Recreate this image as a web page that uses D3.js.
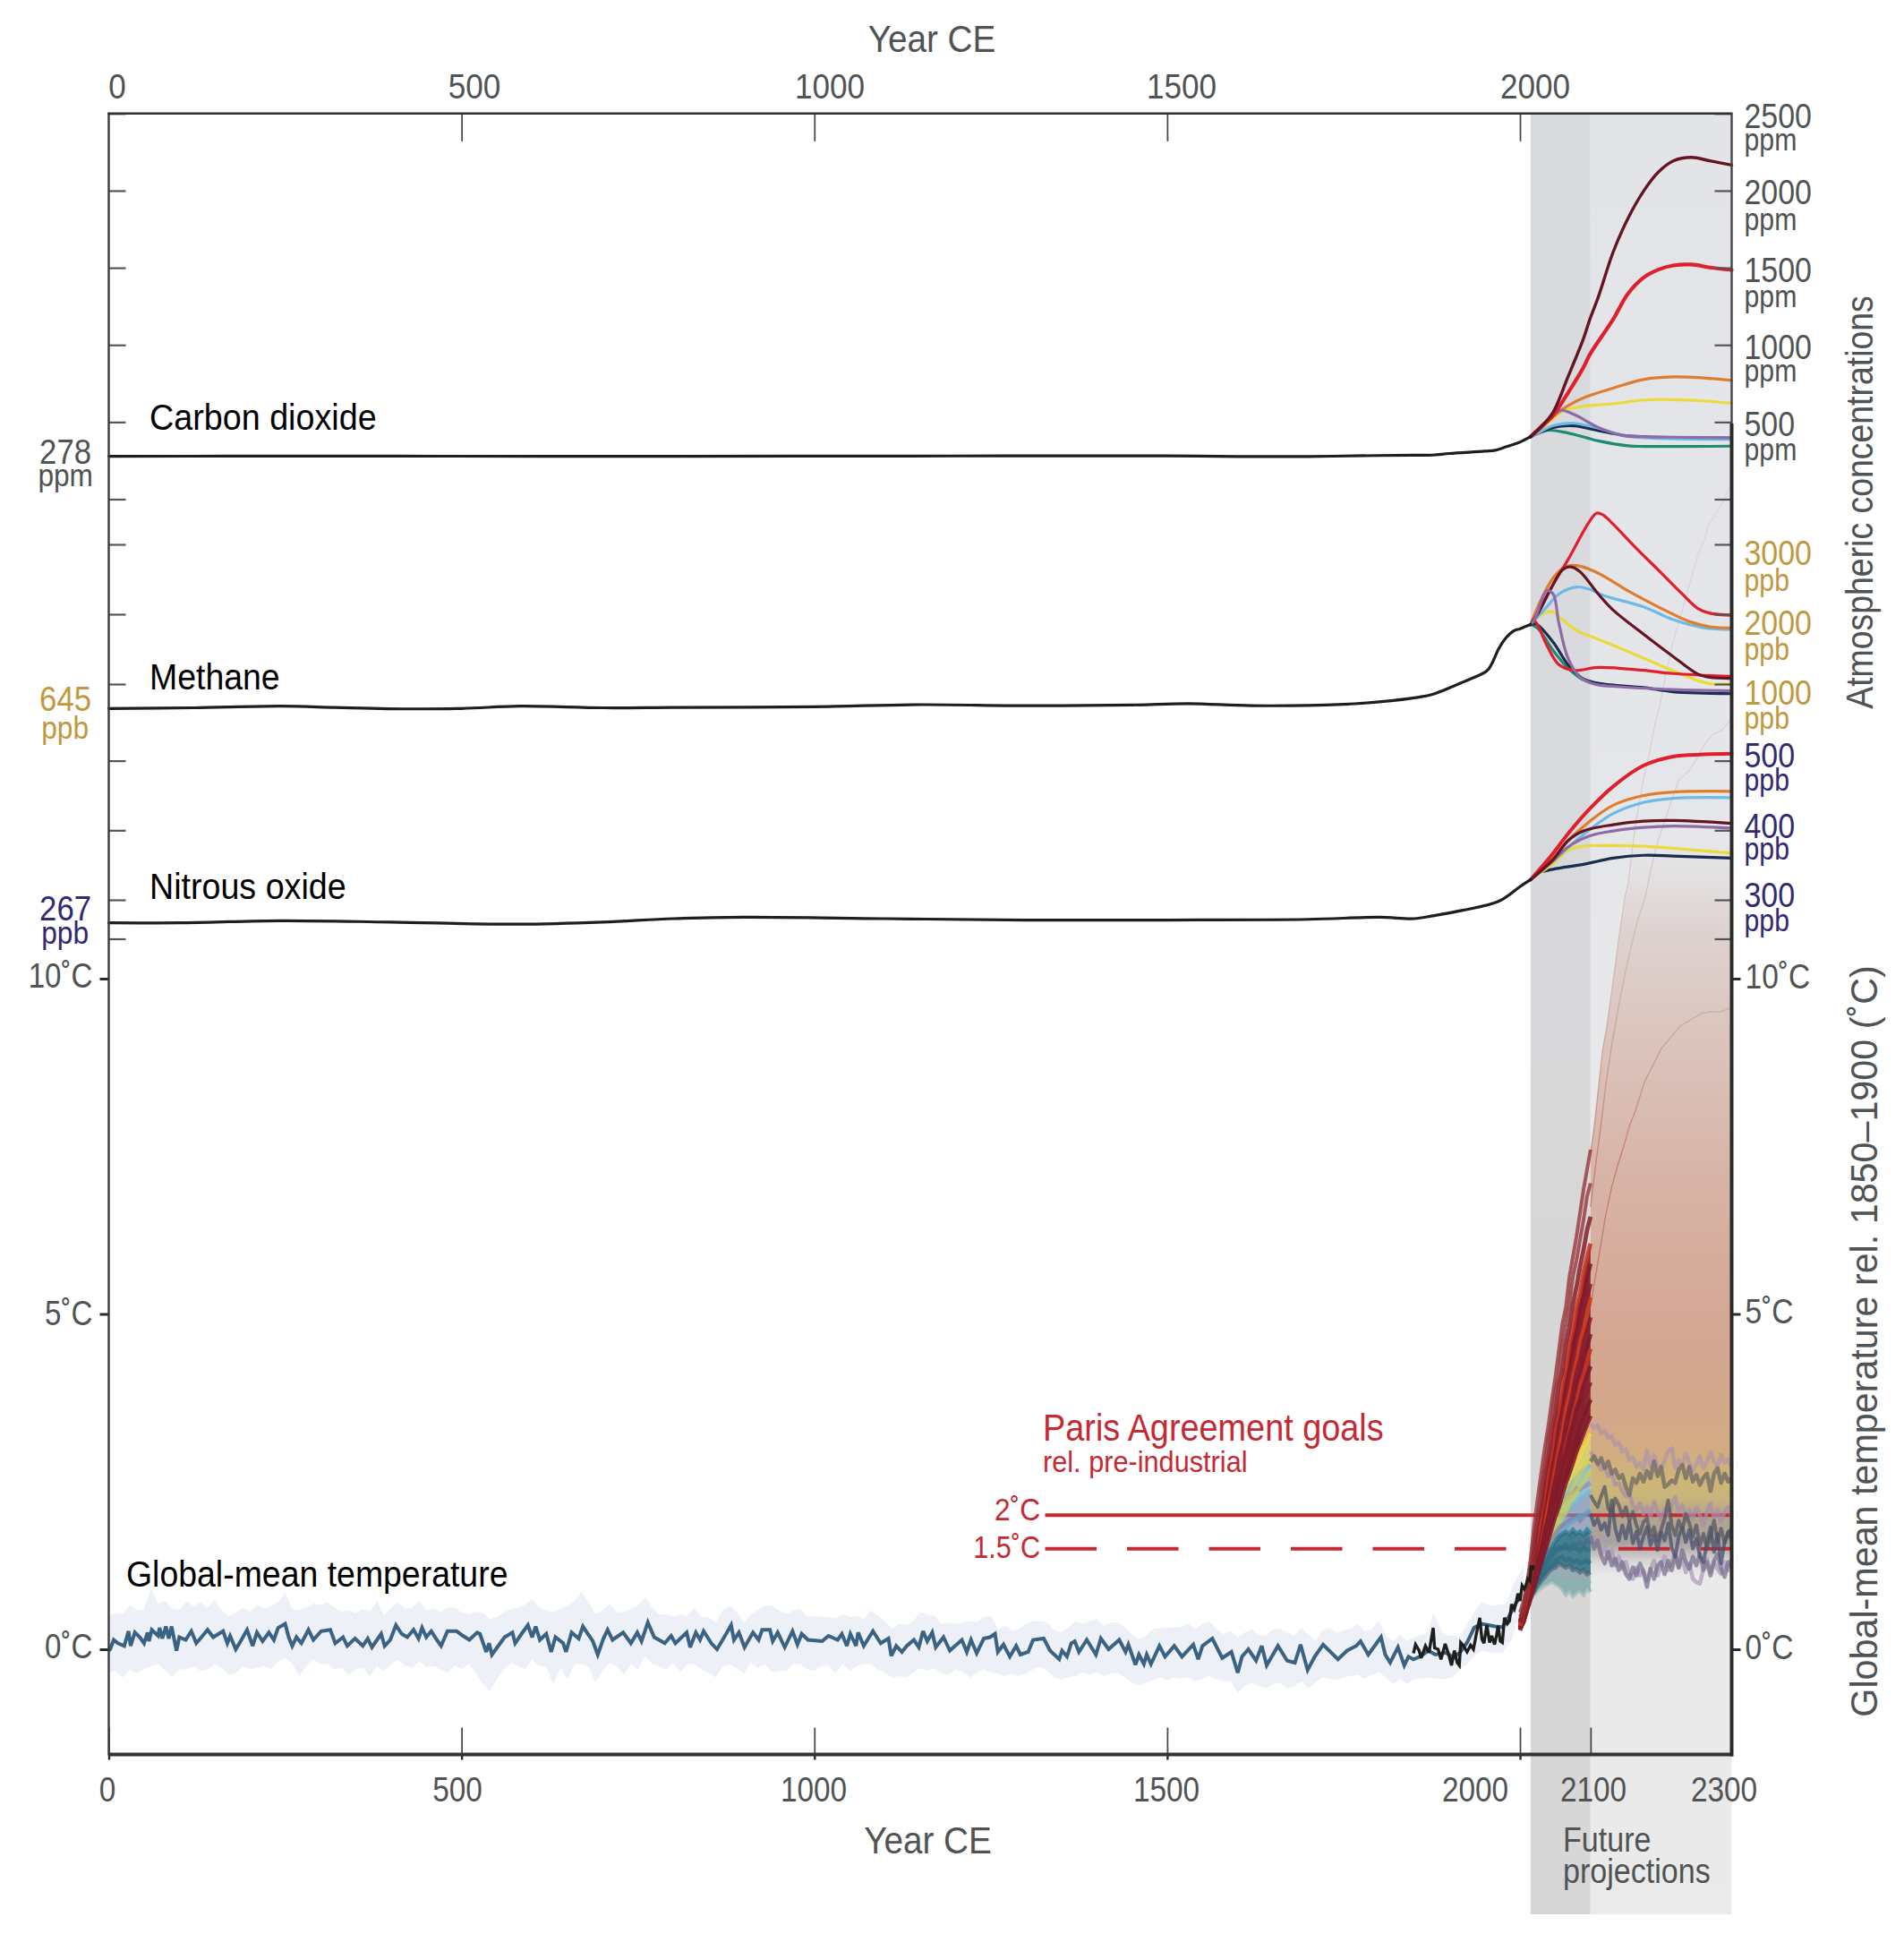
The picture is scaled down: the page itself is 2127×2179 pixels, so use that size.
<!DOCTYPE html>
<html><head><meta charset="utf-8">
<script src="https://cdn.jsdelivr.net/npm/d3@7"></script>
<style>html,body{margin:0;padding:0;background:#fff}svg{display:block}
text{font-family:"Liberation Sans",Arial,sans-serif}</style>
</head><body><svg id="c" width="2127" height="2179"></svg>
<script>
// ---------- data ----------
const topYearTicks=[500,1000,1500,2000];
const topYearLabels=[0,500,1000,1500,2000];
const bottomYearTicks=[0,500,1000,1500,2000,2100];
const bottomYearLabels=[0,500,1000,1500,2000,2100,2300];
const co2Ticks=[0,500,1000,1500,2000,2500];
const ch4Ticks=[1000,2000,3000];
const n2oTicks=[244,300,400,500];
const tempTicks=[0,5,10];

const co2History=[[0,278],[200,279],[400,279],[600,278],[800,278],[1000,279],[1200,280],[1400,281],[1500,281],[1600,277],[1700,277],[1800,283],[1850,285],[1876,286],[1900,296],[1950,311],[1965,317],[1980,339],[2000,370],[2015,405]];
const co2SSP585=[[2015,405],[2030,470],[2047,564],[2068,793],[2090,1041],[2099,1166],[2111,1311],[2132,1602],[2153,1820],[2175,1996],[2196,2120],[2217,2193],[2243,2216],[2269,2193],[2300,2166]];
const co2Red=[[2015,405],[2030,470],[2047,544],[2068,689],[2090,855],[2099,938],[2132,1166],[2153,1332],[2175,1436],[2196,1488],[2217,1515],[2243,1521],[2269,1502],[2300,1486]];
const co2Orange=[[2015,405],[2030,465],[2047,535],[2068,606],[2094,664],[2132,720],[2175,776],[2217,793],[2260,786],[2300,770]];
const co2Yellow=[[2015,405],[2030,455],[2047,525],[2060,570],[2090,602],[2132,618],[2175,643],[2217,645],[2260,637],[2300,622]];
const co2Purple=[[2015,405],[2030,460],[2047,544],[2057,577],[2077,548],[2111,465],[2145,413],[2175,405],[2217,402],[2300,398]];
const co2Blue=[[2015,405],[2030,440],[2047,477],[2077,492],[2111,460],[2145,415],[2175,398],[2300,388]];
const co2Navy=[[2015,405],[2030,435],[2047,465],[2077,475],[2111,445],[2145,415],[2175,405],[2300,395]];
const co2Teal=[[2015,405],[2038,446],[2068,429],[2111,378],[2153,346],[2175,342],[2300,344]];

const ch4History=[[0,650],[120,660],[244,684],[320,665],[394,647],[500,650],[582,684],[700,660],[800,665],[1000,675],[1150,705],[1300,690],[1450,700],[1530,720],[1620,690],[1750,710],[1800,745],[1857,813],[1876,853],[1919,1027],[1953,1188],[1960,1290],[1970,1509],[1980,1660],[1991,1761],[2000,1793],[2015,1853]];
const ch4Red=[[2015,1853],[2021,1950],[2047,2427],[2068,2780],[2098,3321],[2109,3449],[2119,3413],[2132,3289],[2166,2931],[2196,2633],[2230,2289],[2252,2083],[2269,2014],[2300,1986]];
const ch4Orange=[[2015,1853],[2030,2210],[2047,2518],[2064,2679],[2081,2697],[2111,2587],[2153,2335],[2196,2105],[2239,1899],[2269,1821],[2300,1803]];
const ch4Maroon=[[2015,1853],[2025,2000],[2047,2427],[2060,2633],[2072,2679],[2085,2610],[2111,2289],[2132,2060],[2175,1716],[2217,1395],[2252,1142],[2269,1096],[2300,1083]];
const ch4Blue=[[2015,1853],[2038,2105],[2055,2289],[2081,2390],[2098,2358],[2119,2266],[2175,2105],[2217,1922],[2260,1807],[2300,1784]];
const ch4Yellow=[[2015,1853],[2030,1991],[2045,2041],[2055,1968],[2081,1761],[2098,1693],[2132,1555],[2175,1372],[2217,1188],[2252,1050],[2269,1005],[2300,1000]];
const ch4Red2=[[2015,1853],[2021,1900],[2038,1555],[2055,1280],[2077,1197],[2111,1239],[2175,1197],[2217,1151],[2300,1110]];
const ch4Purple=[[2015,1853],[2021,1930],[2038,2335],[2047,2289],[2055,1876],[2068,1372],[2085,1096],[2107,995],[2132,968],[2217,922],[2300,904]];
const ch4Teal=[[2015,1853],[2025,1800],[2047,1480],[2068,1230],[2090,1060],[2115,1000]];
const ch4Navy=[[2015,1853],[2023,1860],[2047,1600],[2068,1280],[2090,1073],[2115,1005],[2175,950],[2217,890],[2300,862]];

const n2oHistory=[[0,267],[100,267],[244,270],[400,268],[582,265],[700,268],[800,273],[900,275],[1100,273],[1300,271],[1500,271],[1700,272],[1800,275],[1850,273],[1876,277],[1919,285],[1970,298],[2000,319],[2015,329]];
const n2oRed=[[2015,329],[2047,367],[2068,395],[2099,431],[2132,463],[2175,493],[2217,506],[2260,509],[2300,510]];
const n2oOrange=[[2015,329],[2047,360],[2068,385],[2099,413],[2132,436],[2175,450],[2217,455],[2300,456]];
const n2oBlue=[[2015,329],[2047,356],[2090,394],[2132,424],[2175,440],[2217,446],[2300,447]];
const n2oMaroon=[[2015,329],[2047,358],[2068,385],[2090,399],[2132,408],[2175,413],[2217,414],[2300,410]];
const n2oPurple=[[2015,329],[2047,356],[2068,376],[2099,392],[2132,399],[2175,404],[2217,406],[2300,403]];
const n2oYellow=[[2015,329],[2047,352],[2068,371],[2090,377],[2132,378],[2175,377],[2217,374],[2300,367]];
const n2oNavy=[[2015,329],[2025,338],[2047,344],[2090,351],[2132,360],[2175,364],[2217,363],[2300,360]];

// reconstructed global mean temperature: [year, deg C]
const tempMean=[[0,-.02],[2,0],[7,.14],[13,.09],[22,.05],[28,.27],[31,.05],[37,.25],[44,.18],[50,.09],[55,.25],[57,.12],[61,.29],[70,.20],[72,.32],[76,.16],[81,.34],[85,.16],[89,.34],[96,-.02],[100,.18],[109,.14],[117,.27],[124,.09],[133,.20],[140,.29],[148,.18],[162,.27],[168,.09],[172,.20],[180,0],[188,.14],[196,.29],[204,.05],[210,.25],[218,.12],[227,.25],[234,.14],[240,.32],[250,.38],[255,.18],[260,.05],[266,.18],[273,.09],[283,.29],[290,.14],[301,.27],[314,.29],[321,.09],[332,.18],[338,.05],[349,.16],[360,.05],[367,.16],[373,.03],[386,.23],[391,.05],[399,.14],[407,.36],[415,.23],[423,.18],[432,.29],[439,.16],[444,.32],[450,.18],[457,.27],[465,.14],[471,.05],[480,.27],[493,.27],[502,.20],[511,.14],[522,.25],[526,.23],[535,-.04],[539,.09],[543,-.08],[552,.05],[561,.18],[572,.25],[576,.09],[585,.23],[594,.36],[600,.18],[605,.34],[611,.14],[620,.23],[627,-.04],[633,.18],[644,.09],[648,-.04],[656,.25],[666,.16],[672,.34],[679,.23],
[686,.12],[693,-.08],[701,.16],[707,.29],[714,.14],[729,.25],[740,.09],[749,.25],[755,.12],[764,.40],[773,.18],[788,.09],[797,.20],[803,.09],[819,.25],[824,.03],[832,.25],[838,.14],[843,.27],[854,.09],[862,0],[875,.23],[882,.36],[886,.14],[893,.25],[901,.03],[913,.25],[921,.14],[926,.29],[937,.29],[941,.12],[948,.25],[958,.03],[969,.27],[976,.07],[982,.23],[991,.14],[1011,.12],[1020,.20],[1033,.14],[1039,.23],[1046,.05],[1051,.23],[1059,.05],[1062,.25],[1070,.05],[1083,.27],[1094,.09],[1105,.16],[1109,-.10],[1116,.05],[1124,-.04],[1131,.05],[1141,.14],[1148,.03],[1154,.27],[1160,.12],[1167,.25],[1172,.03],[1183,.18],[1192,-.02],[1209,.14],[1216,-.04],[1222,.14],[1230,-.06],[1240,.16],[1249,.18],[1256,.23],[1260,-.04],[1268,.07],[1277,-.11],[1286,.05],[1292,-.08],[1303,-.04],[1310,.14],[1325,.16],[1334,-.02],[1347,-.15],[1351,-.02],[1358,-.11],[1364,.09],
[1369,.12],[1375,-.04],[1386,.14],[1399,-.08],[1406,.16],[1417,0],[1432,.14],[1441,-.04],[1445,.07],[1455,-.23],[1460,-.08],[1467,-.22],[1471,-.08],[1477,-.22],[1489,.05],[1497,-.11],[1510,.05],[1521,-.11],[1537,.07],[1544,-.15],[1550,.05],[1564,.16],[1578,-.13],[1591,-.04],[1600,-.35],[1606,-.11],[1615,0],[1626,-.17],[1634,.05],[1641,-.24],[1657,.05],[1670,-.17],[1681,-.20],[1689,.07],[1699,-.31],[1709,-.11],[1721,.07],[1742,-.15],[1755,-.02],[1768,.05],[1774,.12],[1785,-.08],[1803,.18],[1809,-.08],[1816,-.20],[1827,.03],[1836,-.24],[1842,-.11],[1849,-.15],[1860,-.10],[1870,-.02],[1880,-.08],[1895,-.05],[1905,-.12],[1915,-.05],[1925,.10],[1935,.32],[1945,.38],[1955,.36],[1965,.34],[1975,.33],[1985,.50],[1995,.70],[2000,.78]];
// uncertainty band, one value per decade from year 0 to 1850
const bandUpper=[.50,.54,.52,.66,.58,.60,.90,.68,.72,.60,.58,.72,.64,.70,.62,.74,.58,.50,.54,.62,.56,.66,.60,.64,.70,.85,.60,.58,.62,.68,.66,.70,.62,.56,.58,.54,.60,.56,.72,.50,.62,.70,.60,.62,.72,.58,.60,.55,.62,.62,.55,.52,.56,.55,.45,.48,.55,.60,.62,.66,.75,.62,.58,.55,.60,.65,.72,.85,.70,.52,.58,.68,.55,.56,.60,.65,.78,.62,.52,.52,.48,.52,.50,.62,.48,.48,.40,.58,.65,.55,.40,.52,.58,.65,.65,.58,.52,.58,.60,.48,.50,.48,.48,.46,.52,.48,.50,.45,.58,.50,.42,.30,.38,.36,.42,.55,.52,.50,.38,.40,.38,.40,.42,.40,.48,.50,.30,.35,.28,.30,.38,.42,.42,.40,.28,.25,.32,.42,.38,.42,.45,.35,.40,.40,.32,.22,.15,.20,.30,.32,.32,.33,.33,.38,.30,.38,.42,.30,.22,.28,.18,.25,.30,.22,.20,.30,.30,.25,.20,.32,.22,.12,.28,.32,.25,.28,.30,.38,.26,.30,.42,.20,.12,.22,.12,.18];
const bandLower=[-.35,-.33,-.42,-.30,-.36,-.30,-.25,-.22,-.32,-.42,-.30,-.30,-.25,-.32,-.30,-.22,-.28,-.38,-.36,-.25,-.30,-.28,-.25,-.30,-.18,-.12,-.22,-.40,-.25,-.15,-.22,-.22,-.30,-.28,-.38,-.30,-.28,-.40,-.25,-.32,-.22,-.16,-.24,-.28,-.18,-.26,-.25,-.30,-.35,-.24,-.30,-.22,-.35,-.52,-.62,-.45,-.30,-.20,-.25,-.30,-.15,-.25,-.26,-.52,-.28,-.45,-.22,-.22,-.26,-.50,-.32,-.20,-.25,-.38,-.22,-.30,-.10,-.22,-.25,-.30,-.20,-.35,-.22,-.22,-.30,-.35,-.42,-.25,-.22,-.28,-.36,-.20,-.28,-.22,-.34,-.32,-.32,-.22,-.22,-.30,-.32,-.25,-.25,-.36,-.22,-.32,-.25,-.22,-.22,-.30,-.35,-.42,-.40,-.42,-.35,-.28,-.32,-.28,-.36,-.38,-.30,-.33,-.42,-.35,-.30,-.35,-.36,-.40,-.36,-.40,-.36,-.30,-.26,-.32,-.42,-.45,-.42,-.40,-.34,-.38,-.34,-.40,-.36,-.35,-.42,-.50,-.54,-.50,-.46,-.42,-.46,-.42,-.44,-.42,-.48,-.44,-.40,-.45,-.48,-.48,-.65,-.55,-.50,-.55,-.58,-.52,-.50,-.58,-.55,-.48,-.58,-.50,-.42,-.44,-.46,-.42,-.40,-.38,-.44,-.38,-.34,-.42,-.52,-.45,-.52,-.45];
const bandUpperRecent=[[1870,.25],[1877,.55],[1890,.25],[1900,.20],[1915,.20],[1930,.45],[1936,.58],[1945,.70],[1960,.65],[1980,.68],[1990,.95],[2005,1.25]];
const bandLowerRecent=[[2005,.75],[2000,.55],[1988,.14],[1975,-.06],[1960,-.05],[1945,-.02],[1936,-.10],[1925,-.22],[1914,-.31],[1905,-.42],[1890,-.45],[1870,-.42]];
const observed=[[1849,-.06],[1852,.07],[1857,-.02],[1860,-.13],[1866,.05],[1871,-.05],[1877,.32],[1879,.02],[1884,0],[1888,-.15],[1894,.08],[1899,-.08],[1903,-.24],[1907,-.02],[1911,-.20],[1914,-.24],[1916,.10],[1920,.05],[1925,-.04],[1930,.06],[1934,0],[1938,.22],[1943,.47],[1946,.15],[1949,.09],[1953,.36],[1957,.10],[1960,.20],[1964,.07],[1967,.22],[1969,.35],[1972,.12],[1975,.10],[1978,.47],[1982,.38],[1985,.42],[1988,.67],[1992,.60],[1995,.72],[1997,.83],[2000,.72],[2003,.95],[2006,.90],[2008,.94],[2011,1.05],[2014,1.02],[2016,1.25],[2018,1.18],[2019,1.25]];

// Paris goals
const parisStart=1327, parisEnd=2300;
const parisGoals=[2,1.5];

// high-emission members, every five years 2000..2100
const redYears=[2000,2005,2010,2015,2020,2025,2030,2035,2040,2045,2050,2055,2060,2065,2070,2075,2080,2085,2090,2095,2100];
const red1=[.55,.72,.98,1.35,1.85,2.25,2.62,3.00,3.32,3.70,4.05,4.45,4.85,5.10,5.55,5.85,6.15,6.50,6.85,7.15,7.45];
const red2=[.48,.62,.90,1.25,1.65,2.00,2.40,2.72,3.15,3.42,3.85,4.10,4.55,4.85,5.15,5.55,5.80,6.10,6.40,6.75,6.95];
const red3=[.40,.60,.88,1.15,1.50,1.92,2.15,2.58,2.85,3.25,3.52,3.95,4.15,4.55,4.80,5.15,5.40,5.70,5.95,6.25,6.45];
const red4=[.35,.55,.80,1.10,1.45,1.72,2.05,2.35,2.70,2.98,3.35,3.60,3.95,4.20,4.55,4.78,5.10,5.30,5.62,5.85,6.05];
const red5=[.30,.52,.82,1.05,1.38,1.66,1.98,2.22,2.60,2.85,3.18,3.48,3.70,4.05,4.25,4.58,4.80,5.10,5.30,5.55,5.75];
const red6=[.42,.58,.75,1.02,1.30,1.58,1.85,2.18,2.42,2.72,3.00,3.28,3.60,3.82,4.10,4.32,4.62,4.80,5.08,5.25,5.45];
const red7=[.38,.50,.78,.98,1.25,1.50,1.80,2.02,2.35,2.58,2.88,3.10,3.42,3.65,3.90,4.18,4.35,4.62,4.80,5.00,5.25];
const red8=[.32,.50,.70,.95,1.20,1.48,1.68,1.98,2.22,2.50,2.70,3.00,3.20,3.50,3.70,3.95,4.15,4.38,4.60,4.75,4.95];
const red9=[.40,.48,.72,.92,1.15,1.38,1.62,1.88,2.10,2.32,2.60,2.80,3.08,3.28,3.52,3.72,3.98,4.12,4.35,4.52,4.70];
const red10=[.30,.45,.68,.88,1.10,1.32,1.58,1.78,2.02,2.25,2.45,2.70,2.90,3.12,3.35,3.52,3.75,3.95,4.10,4.30,4.48];
const red11=[.35,.42,.65,.85,1.08,1.28,1.48,1.72,1.92,2.15,2.32,2.55,2.78,2.95,3.18,3.35,3.58,3.72,3.92,4.08,4.22];
const red12=[.28,.45,.62,.82,1.02,1.22,1.42,1.60,1.82,2.02,2.22,2.40,2.62,2.80,3.00,3.18,3.35,3.52,3.70,3.85,3.98];
const red13=[.30,.40,.60,.78,.98,1.15,1.35,1.52,1.72,1.90,2.08,2.28,2.45,2.62,2.80,2.98,3.12,3.30,3.45,3.60,3.72];
const red14=[.32,.42,.58,.75,.92,1.10,1.28,1.45,1.62,1.80,1.98,2.12,2.30,2.48,2.62,2.78,2.95,3.08,3.22,3.35,3.48];
const redMembers=[red14,red13,red12,red10,red9,red8,red7,red11,red6,red5,red4,red3,red2,red1];
const redColours=["#7e1a2a","#7e1a2a","#8c1d2c","#c9351f","#7e1a2a","#8c1d2c","#d2401f","#7e1a2a","#8c1d2c","#7e1a2a","#c9351f","#8c1d2c","#963238","#963238"];

// other members, every five years 2015..2100
const fanYears=[2015,2020,2025,2030,2035,2040,2045,2050,2055,2060,2065,2070,2075,2080,2085,2090,2095,2100];
const grey1=[.78,.82,.88,.92,.96,.98,1.02,.98,.95,.90,.82,.88,.80,.85,.88,.82,.92,.85];
const grey2=[.80,.85,.92,1.0,1.02,1.05,1.08,1.10,1.05,1.02,.98,1.0,.95,.98,1.0,.95,1.02,.98];
const dark1=[.80,.86,.95,1.02,1.08,1.15,1.20,1.22,1.28,1.25,1.22,1.25,1.18,1.20,1.15,1.18,1.12,1.15];
const blue4=[.82,.95,1.05,1.15,1.25,1.32,1.42,1.48,1.52,1.58,1.62,1.65,1.70,1.72,1.75,1.72,1.78,1.80];
const blue3=[.85,.98,1.12,1.25,1.35,1.45,1.52,1.62,1.70,1.75,1.82,1.88,1.90,1.95,2.00,1.98,2.05,2.08];
const blue2=[.90,1.05,1.20,1.32,1.45,1.55,1.68,1.78,1.85,1.95,2.02,2.10,2.15,2.20,2.25,2.30,2.32,2.38];
const blue1=[.95,1.12,1.30,1.45,1.60,1.72,1.85,1.98,2.10,2.22,2.32,2.42,2.50,2.55,2.62,2.68,2.72,2.75];
const purple1=[.95,1.15,1.32,1.50,1.62,1.78,1.88,2.00,2.12,2.20,2.25,2.32,2.35,2.40,2.38,2.42,2.45,2.48];
const purple2=[.85,1.00,1.18,1.30,1.42,1.55,1.62,1.72,1.80,1.85,1.88,1.92,1.95,1.98,1.92,2.00,2.02,2.05];
const purple3=[.82,.95,1.05,1.18,1.28,1.35,1.42,1.48,1.52,1.50,1.55,1.52,1.58,1.55,1.60,1.55,1.62,1.58];
const teal1=[.85,.98,1.10,1.22,1.32,1.45,1.52,1.60,1.68,1.72,1.75,1.72,1.78,1.72,1.75,1.70,1.78,1.72];
const teal2=[.82,.92,1.02,1.12,1.22,1.30,1.38,1.45,1.50,1.52,1.55,1.48,1.52,1.50,1.46,1.52,1.48,1.50];
const teal3=[.80,.88,.98,1.08,1.15,1.22,1.25,1.32,1.35,1.38,1.32,1.35,1.30,1.32,1.28,1.30,1.32,1.28];
const yellow4=[.85,1.02,1.15,1.28,1.40,1.52,1.65,1.75,1.85,1.98,2.05,2.18,2.25,2.35,2.42,2.50,2.58,2.65];
const yellow3=[.90,1.05,1.22,1.35,1.48,1.60,1.72,1.88,1.98,2.10,2.22,2.30,2.42,2.52,2.62,2.70,2.80,2.88];
const yellow2=[.95,1.15,1.30,1.45,1.60,1.78,1.90,2.02,2.18,2.28,2.42,2.55,2.68,2.78,2.90,3.02,3.12,3.22];
const yellow1=[1.05,1.25,1.42,1.60,1.78,1.92,2.10,2.25,2.40,2.55,2.65,2.80,2.92,3.02,3.15,3.28,3.40,3.55];
const orange1=[1.05,1.28,1.50,1.70,1.88,2.05,2.20,2.38,2.55,2.68,2.82,2.95,3.10,3.22,3.38,3.50,3.62,3.75];
const fanMembers=[grey1,grey2,purple1,blue1,blue2,yellow4,yellow3,purple2,blue3,blue4,purple3,dark1,teal3,teal2,teal1,yellow2,yellow1,orange1];
const fanColours=["#86b5ad","#86b5ad","#8a80ad","#6fb7d8","#6fb7d8","#d9d040","#d9d040","#7d76a8","#5ba9c9","#5ba9c9","#6a6a9a","#4e5570","#1f6f88","#27808a","#1f6f88","#efe040","#f0c020","#e2702a"];

// long-term members, every five years 2100..2300
const longYears=d3.range(2100,2301,5);
const longA=[3.36,3.30,3.34,3.22,3.26,3.15,3.18,3.05,3.08,2.95,2.98,2.82,2.86,2.72,2.78,2.68,2.96,2.72,2.90,2.74,2.70,2.82,2.95,3.00,2.70,2.82,2.75,2.92,2.78,2.66,2.76,2.88,2.70,2.80,2.94,2.80,2.72,2.90,2.78,2.84,2.70];
const longE=[2.95,2.85,2.78,2.68,2.72,2.58,2.62,2.45,2.48,2.35,2.28,2.32,2.15,2.08,2.18,2.02,2.12,1.98,2.20,2.05,1.92,2.10,2.00,2.15,2.27,2.05,2.15,1.92,2.08,1.95,2.12,2.00,1.85,2.05,2.18,1.95,2.08,1.90,2.05,2.12,1.98];
const longG=[1.72,1.58,1.65,1.42,1.52,1.35,1.48,1.25,1.38,1.20,1.30,1.12,1.05,1.22,1.10,1.18,1.02,1.20,1.32,1.10,1.25,1.38,1.18,1.30,1.45,1.22,1.35,1.15,1.28,1.05,1.00,.98,1.20,1.35,1.15,1.30,1.20,1.12,1.30,1.18,1.36];
const longF=[1.70,1.50,1.62,1.40,1.28,1.45,1.25,1.35,1.18,1.30,1.12,1.05,1.22,1.10,1.28,1.15,.93,1.20,1.05,1.25,1.30,1.12,1.32,1.18,1.40,1.22,1.48,1.30,1.20,1.38,1.25,1.42,1.18,1.30,1.10,1.32,1.42,1.20,1.08,1.30,1.22];
const longD=[2.02,1.85,1.95,1.78,1.88,1.70,2.22,1.80,1.62,1.85,1.65,1.90,1.58,1.75,1.50,1.68,1.82,1.55,1.70,1.48,1.75,1.62,1.88,1.52,1.38,1.68,1.82,1.60,1.78,1.50,1.65,1.38,1.30,1.58,1.82,1.45,1.72,1.28,1.60,1.75,1.62];
const longC=[2.30,2.20,2.12,2.28,2.42,2.10,2.02,2.25,2.15,1.98,2.12,1.92,2.05,1.85,1.72,1.90,1.95,1.70,1.82,1.62,1.78,1.95,2.22,1.85,1.70,1.92,1.78,2.02,1.88,1.68,1.85,1.55,1.72,1.50,1.68,1.92,1.60,1.80,1.58,1.74,1.80];
const longB=[2.80,2.88,2.76,2.85,2.70,2.80,2.62,2.68,2.55,2.60,2.42,2.30,2.55,2.48,2.62,2.50,2.66,2.55,2.80,2.58,2.72,2.42,2.46,2.52,2.48,2.68,2.75,2.55,2.72,2.50,2.60,2.45,2.56,2.62,2.36,2.62,2.70,2.48,2.62,2.50,2.55];
const longMembers=[longA,longE,longG,longF,longD,longC,longB];
const longColours=["#b094a8","#a78fa8","#ad97b8","#766f8c","#474e6c","#55555f","#6b6766"];
const longWidths=[4.5,4.5,4.5,4.5,4,4,4.5];
const faintU1=[[2100,7.4],[2105,7.77],[2110,8.25],[2117,8.93],[2123,9.28],[2130,9.81],[2140,10.6],[2149,11.24],[2153,11.40],[2163,12.25],[2174,12.92],[2183,13.35],[2192,13.83],[2198,14.05],[2205,14.45],[2218,15.07],[2228,15.42],[2239,15.83],[2252,16.32],[2260,16.5],[2268,16.78],[2285,17.05],[2296,17.3],[2300,17.42]];
const faintU2=[[2100,6.6],[2107,7.2],[2115,7.84],[2122,8.45],[2130,9.0],[2140,9.6],[2149,10.08],[2158,10.5],[2166,10.84],[2178,11.24],[2187,11.7],[2196,12.07],[2210,12.5],[2225,12.96],[2240,13.1],[2252,13.31],[2262,13.5],[2272,13.63],[2285,13.7],[2296,13.83],[2300,13.88]];
const faintU3=[[2100,5.11],[2106,5.5],[2113,5.93],[2121,6.45],[2130,6.89],[2138,7.2],[2147,7.50],[2155,7.8],[2164,8.04],[2176,8.45],[2189,8.72],[2200,8.95],[2214,9.13],[2228,9.3],[2244,9.40],[2257,9.48],[2270,9.51],[2283,9.5],[2295,9.55],[2300,9.55]];
const fillLowerEdge=[[2300,.95],[2100,.95]];

// ---------- scales ----------
const x=d3.scaleLinear().domain([0,2300]).range([121.5,1934.5]);
const yCO2=d3.scaleLinear().domain([0,2500]).range([557.5,126.8]);
const yCH4=d3.scaleLinear().domain([1000,3000]).range([764,608]);
const yN2O=d3.scaleLinear().domain([300,500]).range([1005,849.6]);
const yT=d3.scaleLinear().domain([0,10]).range([1842,1093]);
const pTop=126.8,pBottom=1959.5,pLeft=121.5,pRight=1934.5,shadeBottom=2138;

const svg=d3.select("#c");
const defs=svg.append("defs");
function grad(id,y1,y2,stops){
  const g=defs.append("linearGradient").attr("id",id).attr("gradientUnits","userSpaceOnUse")
    .attr("x1",0).attr("x2",0).attr("y1",y1).attr("y2",y2);
  stops.forEach(s=>g.append("stop").attr("offset",(s[0]-y1)/(y2-y1)).attr("stop-color",s[1]).attr("stop-opacity",s[2]===undefined?1:s[2]));
}
grad("shadeA",pTop,shadeBottom,[[pTop,"#d9dade"],[800,"#d9dade"],[1400,"#d7d7d7"],[shadeBottom,"#d7d7d7"]]);
grad("shadeB",pTop,shadeBottom,[[pTop,"#e3e4e8"],[800,"#e5e6ea"],[1400,"#e9e9e9"],[shadeBottom,"#eaeaea"]]);
grad("fanFill",940,1760,[[940,"#dfd4d2",0],[1040,"#ddd0cd",.9],[1100,"#dccbc6"],[1300,"#d8b5a9"],[1500,"#d4a692"],[1590,"#d3a888"],[1625,"#d2ad80"],[1657,"#cdb676"],[1673,"#c8b47a"],[1690,"#b5a68c"],[1723,"#a09a98",.9],[1745,"#a09a98",.2],[1760,"#a09a98",0]]);
grad("faint",540,1300,[[540,"#cfcfd2",.55],[850,"#cbbdbb",.5],[1100,"#c49c92",.55],[1300,"#b35a4a",.6]]);

// shaded future
svg.append("rect").attr("x",x(2015)).attr("y",pTop).attr("width",x(2100)-x(2015)).attr("height",shadeBottom-pTop).attr("fill","url(#shadeA)");
svg.append("rect").attr("x",x(2100)).attr("y",pTop).attr("width",x(2300)-x(2100)).attr("height",shadeBottom-pTop).attr("fill","url(#shadeB)");

const lineT=d3.line().x(d=>x(d[0])).y(d=>yT(d[1]));
// long term fill
svg.append("path").attr("d",lineT(faintU1.concat(fillLowerEdge))+"Z").attr("fill","url(#fanFill)");
// Paris lines
parisGoals.forEach((g,i)=>{
  svg.append("path").attr("d",lineT([[parisStart,g],[parisEnd,g]])).attr("fill","none").attr("stroke","#c42a33").attr("stroke-width",4)
    .attr("stroke-dasharray",i?"57.5 34":null);
});
[faintU1,faintU2,faintU3].forEach(d=>svg.append("path").attr("d",lineT(d)).attr("fill","none").attr("stroke","url(#faint)").attr("stroke-width",1.3));

// concentration lines
function conc(data,y,colour,w){
  const l=d3.line().x(d=>x(d[0])).y(d=>y(d[1])).curve(d3.curveCatmullRom.alpha(.5));
  svg.append("path").attr("d",l(data)).attr("fill","none").attr("stroke",colour).attr("stroke-width",w||3.2).attr("stroke-linecap","round");
}
const NAVY="#1a2c50",TEAL="#1f8a72",BLUE="#6cbbe6",PURPLE="#8e6ba6",YEL="#ebdb3a",ORG="#e07c2e",RED="#e01f2d",MAR="#641423",BLK="#1e1e1c";
[[co2Teal,TEAL],[co2Navy,NAVY],[co2Blue,BLUE],[co2Yellow,YEL],[co2Orange,ORG],[co2Purple,PURPLE],[co2Red,RED,4.2],[co2SSP585,MAR,3.4],[co2History,BLK]].forEach(s=>conc(s[0],yCO2,s[1],s[2]));
[[ch4Teal,TEAL],[ch4Navy,NAVY],[ch4Yellow,YEL],[ch4Blue,BLUE],[ch4Orange,ORG],[ch4Red,RED],[ch4Red2,RED],[ch4Maroon,MAR],[ch4Purple,PURPLE],[ch4History,BLK]].forEach(s=>conc(s[0],yCH4,s[1],s[2]));
[[n2oNavy,NAVY],[n2oYellow,YEL],[n2oBlue,BLUE],[n2oOrange,ORG],[n2oRed,RED,4],[n2oPurple,PURPLE],[n2oMaroon,MAR],[n2oHistory,BLK]].forEach(s=>conc(s[0],yN2O,s[1],s[2]));

// temperature band and mean
const upperPts=bandUpper.map((v,i)=>[i*10,v]).concat(bandUpperRecent);
const lowerPts=bandLowerRecent.concat(bandLower.map((v,i)=>[i*10,v]).reverse());
svg.append("path").attr("d",lineT(upperPts.concat(lowerPts))+"Z").attr("fill","#edf1f7");
svg.append("path").attr("d",lineT(tempMean)).attr("fill","none").attr("stroke","#3a6282").attr("stroke-width",4).attr("stroke-linejoin","miter").attr("stroke-miterlimit",3);

// projected members: solid ranges under the member lines
function range(years,lo,hi,colour,op){
  const pts=hi.map((v,j)=>[years[j],v]).concat(lo.map((v,j)=>[years[j],v]).reverse());
  svg.append("path").attr("d",lineT(pts)+"Z").attr("fill",colour).attr("fill-opacity",op);
}
range(fanYears,grey1,teal1,"#7f9fa5",.75);
range(fanYears,teal1,blue2,"#7d90b8",.65);
range(fanYears,blue2,blue1,"#7fb8c8",.7);
range(fanYears,blue1,yellow2,"#d8cc50",.75);
range(fanYears,yellow2,orange1,"#e8a030",.75);
fanMembers.forEach((m,i)=>svg.append("path").attr("d",lineT(m.map((v,j)=>[fanYears[j],v]))).attr("fill","none").attr("stroke",fanColours[i]).attr("stroke-width",5).attr("stroke-opacity",.6));
range(fanYears,dark1,teal1,"#2a6a80",.7);
range(redYears,red14,red4,"#861a2b",.9);
redMembers.forEach((m,i)=>svg.append("path").attr("d",lineT(m.map((v,j)=>[redYears[j],v]))).attr("fill","none").attr("stroke",redColours[i]).attr("stroke-width",i>11?4:4.8).attr("stroke-opacity",i>11?.78:.85));
longMembers.forEach((m,i)=>svg.append("path").attr("d",lineT(m.map((v,j)=>[longYears[j],v]))).attr("fill","none").attr("stroke",longColours[i]).attr("stroke-width",longWidths[i]).attr("stroke-opacity",.72).attr("stroke-linejoin","round"));
svg.append("path").attr("d",lineT(observed)).attr("fill","none").attr("stroke","#1d1f1c").attr("stroke-width",3.4).attr("stroke-linejoin","miter").attr("stroke-miterlimit",3);

// ---------- frame and axes ----------
const GREY="#4f5354";
function style(g,w,c){g.select(".domain").remove();g.selectAll("line").attr("stroke",c||"#4a4a4a").attr("stroke-width",w);g.selectAll("text").remove();}
svg.append("g").attr("transform",`translate(0,${pTop})`).call(d3.axisBottom(x).tickValues(topYearTicks).tickSize(31)).call(g=>style(g,1.8));
svg.append("g").attr("transform",`translate(0,${pBottom})`).call(d3.axisTop(x).tickValues(bottomYearTicks).tickSize(30)).call(g=>style(g,1.8));
svg.append("g").attr("transform",`translate(0,${pBottom})`).call(d3.axisBottom(x).tickValues(bottomYearTicks.slice(0,5)).tickSize(6)).call(g=>style(g,2.4,"#2a2a2a"));
[[yCO2,co2Ticks],[yCH4,ch4Ticks],[yN2O,n2oTicks]].forEach(a=>{
  svg.append("g").attr("transform",`translate(${pLeft},0)`).call(d3.axisRight(a[0]).tickValues(a[1]).tickSize(19)).call(g=>style(g,2.2,"#555"));
  svg.append("g").attr("transform",`translate(${pRight},0)`).call(d3.axisLeft(a[0]).tickValues(a[1]).tickSize(19)).call(g=>style(g,2.2,"#555"));
});
svg.append("g").attr("transform",`translate(${pLeft},0)`).call(d3.axisLeft(yT).tickValues(tempTicks).tickSize(10)).call(g=>style(g,3,"#2a2a2a"));
svg.append("g").attr("transform",`translate(${pRight},0)`).call(d3.axisRight(yT).tickValues(tempTicks).tickSize(10)).call(g=>style(g,3,"#2a2a2a"));

function seg(x1,y1,x2,y2,w,c){svg.append("line").attr("x1",x1).attr("y1",y1).attr("x2",x2).attr("y2",y2).attr("stroke",c).attr("stroke-width",w);}
seg(pLeft,pTop-1,pLeft,pBottom+1,2.4,"#3a3a3a");
seg(pLeft-1,pTop,pRight+1,pTop,2.4,"#2f2f2f");
seg(pLeft,pBottom,pRight+1,pBottom,3.8,"#333");
seg(pRight,pTop,pRight,473,2.4,"#444");
seg(pRight,473,pRight,pBottom+2,4,"#2a2a28");

// ---------- text (condensed horizontally like the reference's narrow face) ----------
function t(s,px,py,size,fill,anchor,sx,rot){
  return svg.append("text").attr("font-size",size).attr("fill",fill||GREY).attr("text-anchor",anchor||"start")
    .attr("transform",`translate(${px} ${py}) rotate(${rot||0}) scale(${sx||.9} 1)`).text(s);
}
const topLabelX=[131,530,927,1320,1715];
topYearLabels.forEach((v,i)=>t(v,topLabelX[i],110,39,GREY,"middle",.9));
t("Year CE",1041,58,43,GREY,"middle",.9);
const botLabelX=[120,511,909,1303,1648,1780,1926];
bottomYearLabels.forEach((v,i)=>t(v,botLabelX[i],2012,39,GREY,"middle",.855));
t("Year CE",1036.5,2070,43,GREY,"middle",.9);
t("Future",1746,2068,39,GREY,"start",.874);
t("projections",1746,2103,39,GREY,"start",.874);

const GOLD="#bf983f",INDIGO="#312a70";
t("278",102,518,39,GREY,"end",.89);t("ppm",104,543,36,GREY,"end",.88);
t("645",102,794,39,GOLD,"end",.89);t("ppb",99,825,36,GOLD,"end",.88);
t("267",102,1028,39,INDIGO,"end",.89);t("ppb",99,1054,36,INDIGO,"end",.88);
[["10˚C",1103],["5˚C",1480],["0˚C",1852]].forEach(a=>t(a[0],103.5,a[1],39,GREY,"end",.85));
[["10˚C",1104],["5˚C",1478],["0˚C",1853]].forEach(a=>t(a[0],1949.5,a[1],39,GREY,"start",.86));
const rX=1948.5;
[["2500",143,"ppm",168],["2000",228,"ppm",257],["1500",315,"ppm",343],["1000",401,"ppm",426],["500",487,"ppm",514]].forEach(a=>{t(a[0],rX,a[1],39,GREY,"start",.87);t(a[2],rX,a[3],36,GREY,"start",.84);});
[["3000",631,"ppb",660],["2000",709,"ppb",737],["1000",787,"ppb",814]].forEach(a=>{t(a[0],rX,a[1],39,GOLD,"start",.87);t(a[2],rX,a[3],36,GOLD,"start",.84);});
[["500",857,"ppb",883],["400",936,"ppb",960],["300",1013,"ppb",1040]].forEach(a=>{t(a[0],rX,a[1],39,INDIGO,"start",.87);t(a[2],rX,a[3],36,INDIGO,"start",.84);});

t("Carbon dioxide",167,480,41,"#000","start",.92);
t("Methane",167,770,41,"#000","start",.913);
t("Nitrous oxide",167,1004,41,"#000","start",.918);
t("Global-mean temperature",141,1772,41,"#000","start",.913);
const PARIS="#c42a33";
t("Paris Agreement goals",1165,1609,43,PARIS,"start",.88);
t("rel. pre-industrial",1165,1644,33,PARIS,"start",.93);
t("2˚C",1162,1698,36,PARIS,"end",.88);
t("1.5˚C",1162,1740,36,PARIS,"end",.85);
t("Atmospheric concentrations",2092,561,43,GREY,"middle",.87,-90);
t("Global-mean temperature rel. 1850–1900 (˚C)",2096.5,1498,43,GREY,"middle",.96,-90);
</script></body></html>
